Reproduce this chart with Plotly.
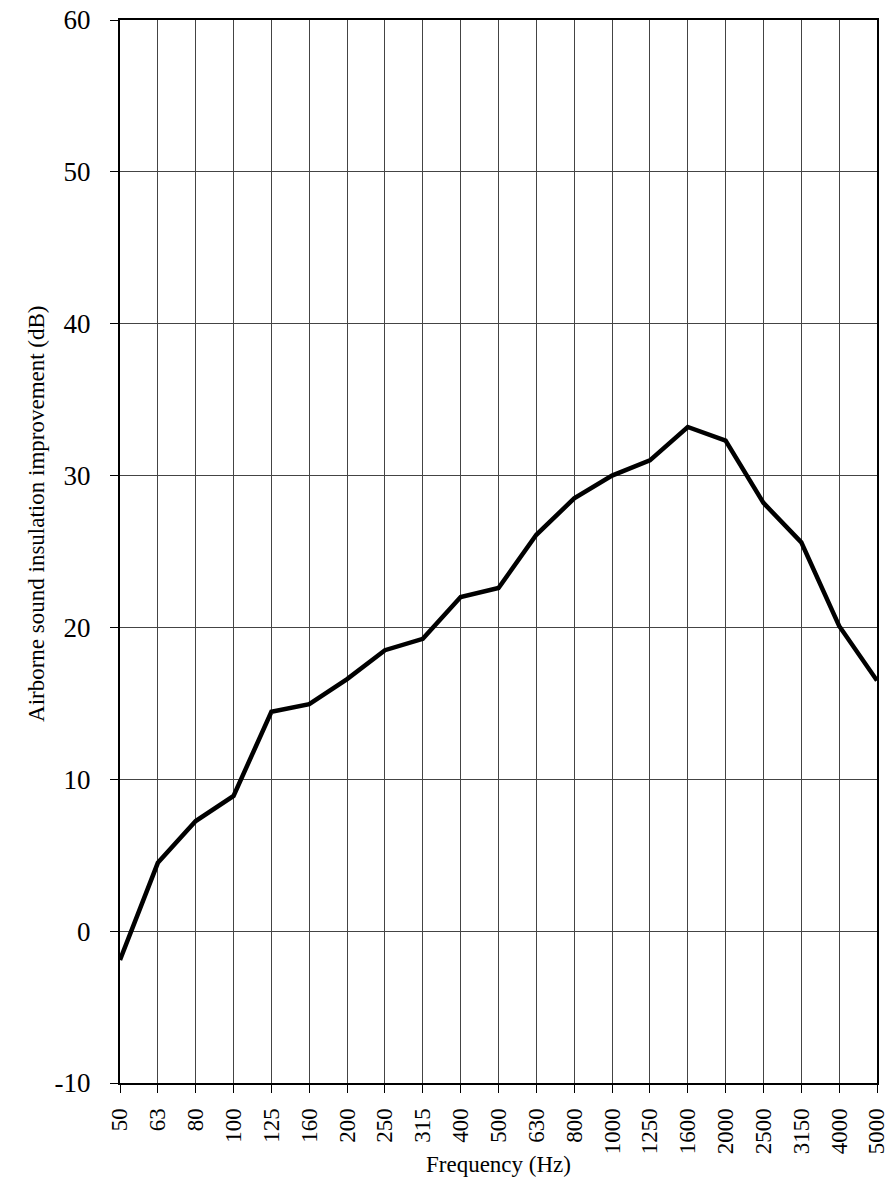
import plotly.graph_objects as go

frequencies = ["50", "63", "80", "100", "125", "160", "200", "250", "315", "400", "500",
               "630", "800", "1000", "1250", "1600", "2000", "2500", "3150", "4000", "5000"]
improvement = [-1.9, 4.5, 7.25, 8.9, 14.45, 14.95, 16.6, 18.5, 19.25, 22.0, 22.6,
               26.1, 28.5, 30.0, 31.0, 33.2, 32.3, 28.2, 25.6, 20.1, 16.5]
y_ticks = [-10, 0, 10, 20, 30, 40, 50, 60]
y_tick_text = ["-10", "0", "10", "20", "30", "40", "50", "60"]

FONT = "Liberation Serif"

fig = go.Figure()
fig.add_trace(go.Scatter(
    x=list(range(len(frequencies))), y=improvement, mode="lines",
    line=dict(color="black", width=4.5), showlegend=False, hoverinfo="skip",
))

fig.update_layout(
    width=891, height=1183,
    margin=dict(l=120, r=14, t=20, b=100),
    paper_bgcolor="white", plot_bgcolor="white",
    font=dict(family=FONT, size=22, color="black"),
    xaxis=dict(
        range=[0, len(frequencies) - 1], automargin=False,
        tickmode="array", tickvals=list(range(len(frequencies))), ticktext=frequencies,
        tickangle=-90, tickfont=dict(family=FONT, size=23, color="black"),
        ticks="outside", ticklen=8, tickcolor="black", tickwidth=1,
        showgrid=True, gridcolor="#444", gridwidth=1,
        showline=True, linecolor="black", linewidth=2, mirror=True,
        zeroline=False, ticklabelstandoff=6,
    ),
    yaxis=dict(
        range=[-10, 60], automargin=False,
        tickmode="array", tickvals=y_ticks, ticktext=y_tick_text,
        tickfont=dict(family=FONT, size=27, color="black"),
        ticks="outside", ticklen=8, tickcolor="black", tickwidth=1,
        showgrid=True, gridcolor="#444", gridwidth=1,
        showline=True, linecolor="black", linewidth=2, mirror=True,
        zeroline=False, ticklabelstandoff=14,
    ),
    annotations=[
        dict(text="Airborne sound insulation improvement (dB)", textangle=-90,
             xref="paper", yref="paper", x=-0.11, y=0.536, showarrow=False,
             xanchor="center", yanchor="middle", font=dict(family=FONT, size=23)),
        dict(text="Frequency (Hz)", xref="paper", yref="paper", x=0.5, y=-0.077,
             showarrow=False, xanchor="center", yanchor="middle",
             font=dict(family=FONT, size=23)),
    ],
)

fig.write_html("out.html")
